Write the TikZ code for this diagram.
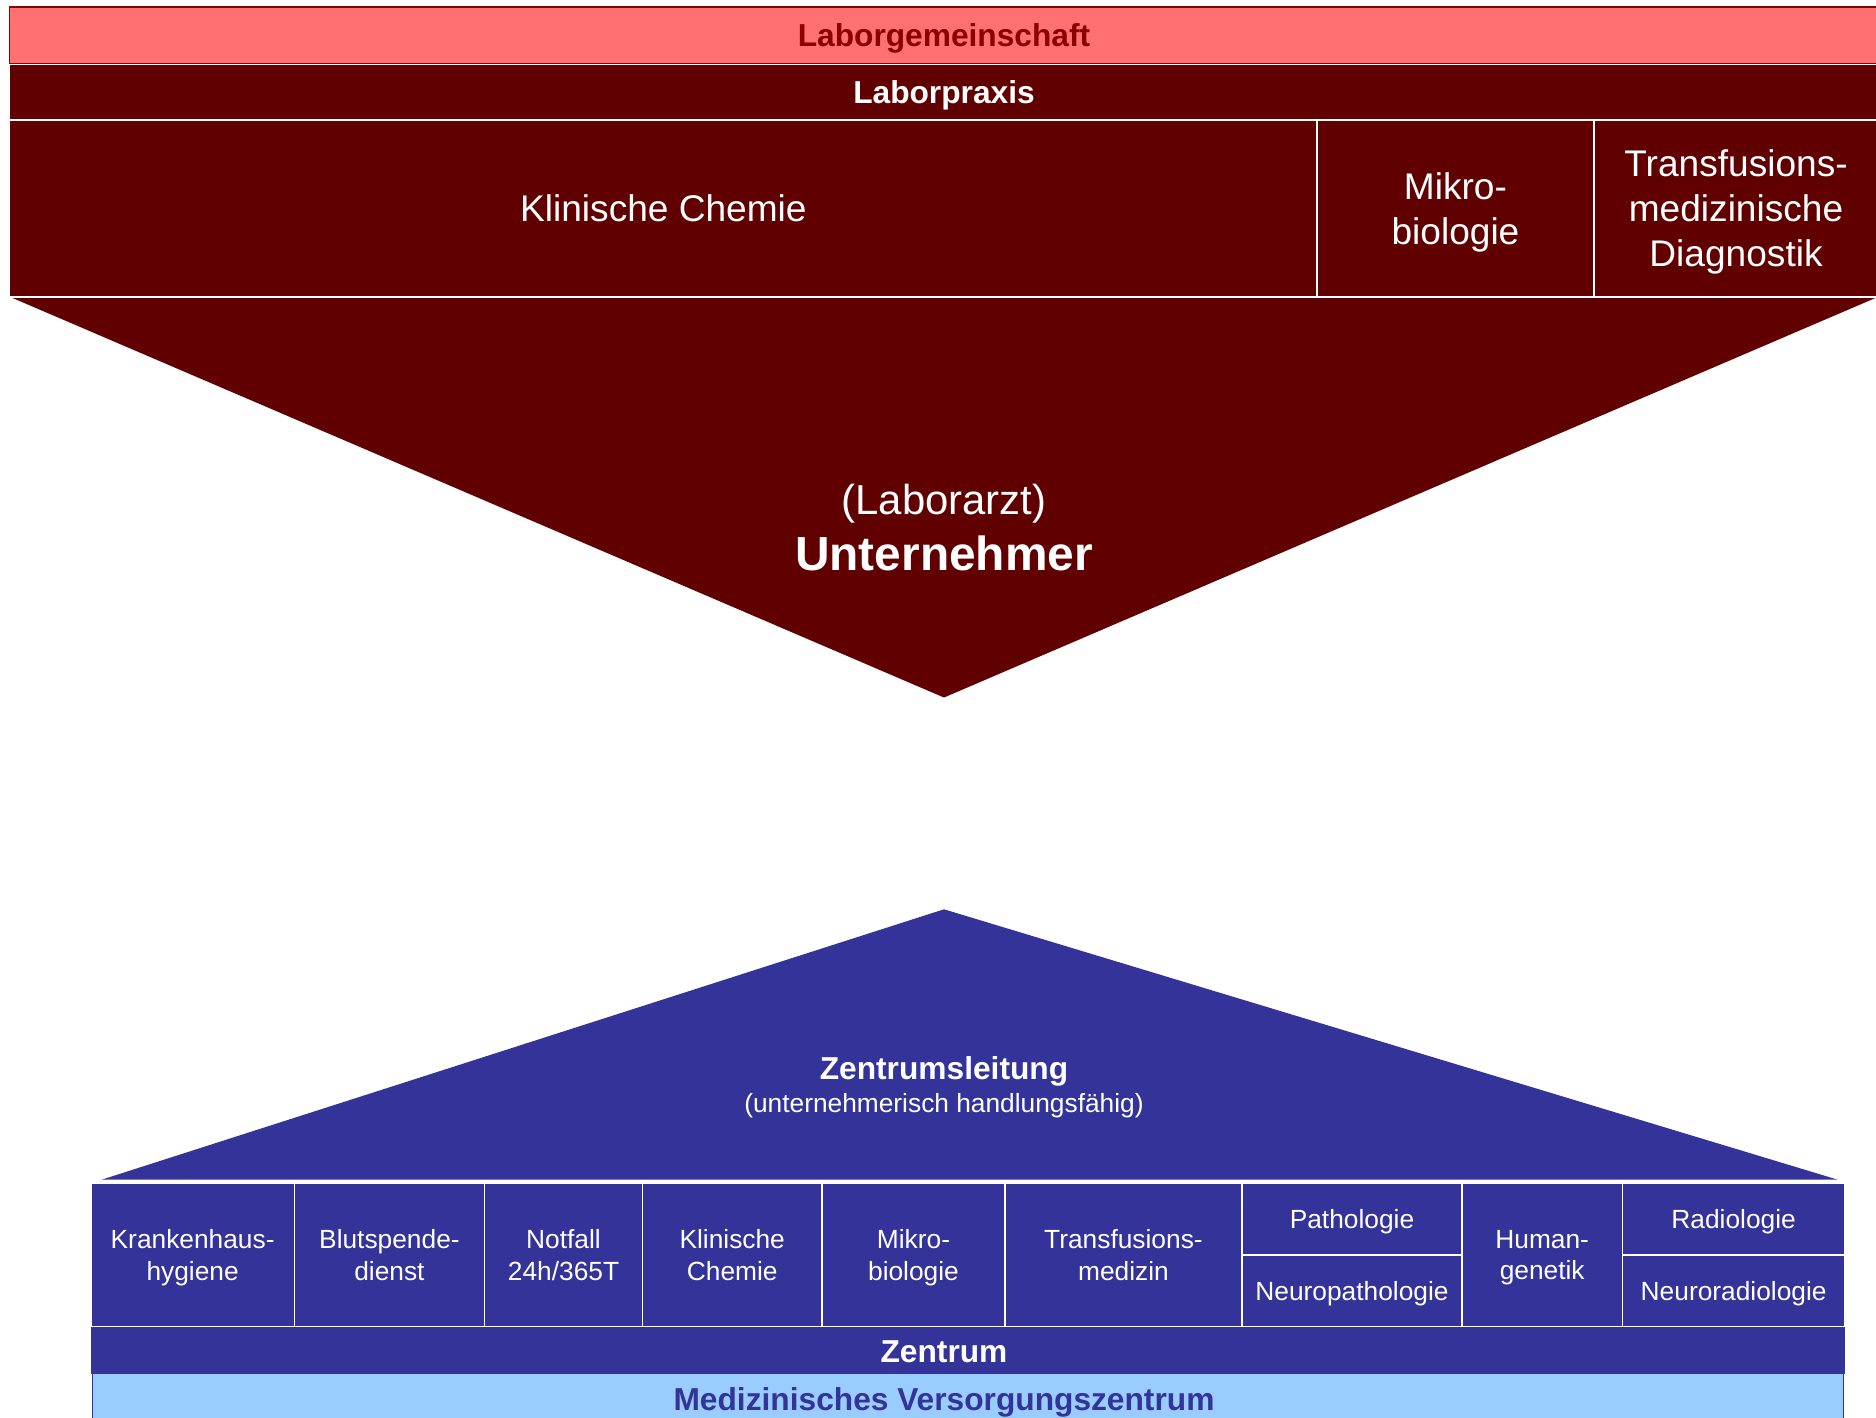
\documentclass[tikz,border=0pt]{standalone}
\usepackage{fontspec}
\setmainfont{Liberation Sans}
\definecolor{praxisred}{HTML}{600000}
\definecolor{gemeinred}{HTML}{FF7070}
\definecolor{darkred}{HTML}{8B0000}
\definecolor{zentrumblue}{HTML}{333399}
\definecolor{mvzblue}{HTML}{99CCFF}

\begin{document}
\begin{tikzpicture}[x=1pt, y=-1pt,
      box/.style={anchor=north west, inner sep=0pt, outer sep=0pt, align=center, text depth=0pt},
      redcell/.style={box, fill=praxisred, draw=white, line width=1.5pt, text=white,
        font=\fontsize{31}{37.5}\selectfont, minimum height=148},
      bluecell/.style={box, fill=zentrumblue, draw=white, line width=1.2pt, text=white,
        font=\fontsize{22}{26.5}\selectfont, minimum height=120},
      halfcell/.style={bluecell, minimum height=60},
      bar/.style={box, font=\bfseries\fontsize{26.5}{30}\selectfont, minimum width=1562},
      label/.style={anchor=base, text=white}
    ]
    \useasboundingbox (0,0) rectangle (1568,1185);
    \clip (0,0) rectangle (1568,1185);

    % Laborpraxis
    \fill[praxisred] (8,248) -- (1570,248) -- (789,583) -- cycle;
    \node[bar, fill=gemeinred, draw=darkred, line width=1.2pt, text=darkred, minimum height=47] (gemein) at (8,6) {Laborgemeinschaft};
    \node[bar, fill=praxisred, text=white, minimum height=46] (praxis) at (8,54) {Laborpraxis};
    \node[redcell, minimum width=1093] (chemie) at (8,100) {Klinische Chemie};
    \node[redcell, minimum width=231] (mikro) at (1101,100) {Mikro-\\biologie};
    \node[redcell, minimum width=238] (transf) at (1332,100) {Transfusions-\\medizinische\\Diagnostik};
    \node[label, font=\fontsize{35}{40}\selectfont] (arzt) at (789,430) {(Laborarzt)};
    \node[label, font=\bfseries\fontsize{40}{46}\selectfont] (unternehmer) at (789,477) {Unternehmer};

    % Zentrum
    \fill[zentrumblue] (85,986) -- (1536,986) -- (789,760) -- cycle;
    \node[label, font=\bfseries\fontsize{26.5}{30}\selectfont] (leitung) at (789,902.5) {Zentrumsleitung};
    \node[label, font=\fontsize{22}{26}\selectfont] (handlung) at (789,930) {(unternehmerisch handlungsfähig)};
    \node[bluecell, minimum width=170] (hygiene) at (76,989) {Krankenhaus-\\hygiene};
    \node[bluecell, minimum width=159] (blut) at (246,989) {Blutspende-\\dienst};
    \node[bluecell, minimum width=132] (notfall) at (405,989) {Notfall\\24h/365T};
    \node[bluecell, minimum width=150] (klin) at (537,989) {Klinische\\Chemie};
    \node[bluecell, minimum width=153] (mibi) at (687,989) {Mikro-\\biologie};
    \node[bluecell, minimum width=198] (transmed) at (840,989) {Transfusions-\\medizin};
    \node[halfcell, minimum width=184] (patho) at (1038,989) {Pathologie};
    \node[halfcell, minimum width=184] (neuropatho) at (1038,1049) {Neuropathologie};
    \node[bluecell, minimum width=134] (human) at (1222,989) {Human-\\genetik};
    \node[halfcell, minimum width=186] (radio) at (1356,989) {Radiologie};
    \node[halfcell, minimum width=186] (neuroradio) at (1356,1049) {Neuroradiologie};
    \node[bar, fill=zentrumblue, minimum width=1466, minimum height=39] (zentrum) at (76,1109) {};
    \node[bar, fill=mvzblue, draw=zentrumblue, line width=1pt, minimum width=1464, minimum height=48] (mvz) at (77,1148) {};
    \node[label, font=\bfseries\fontsize{26.5}{30}\selectfont] (zentrumtext) at (789,1139) {Zentrum};
    \node[label, text=zentrumblue, font=\bfseries\fontsize{26.5}{30}\selectfont] (mvztext) at (789,1179) {Medizinisches Versorgungszentrum};
\end{tikzpicture}
\end{document}
